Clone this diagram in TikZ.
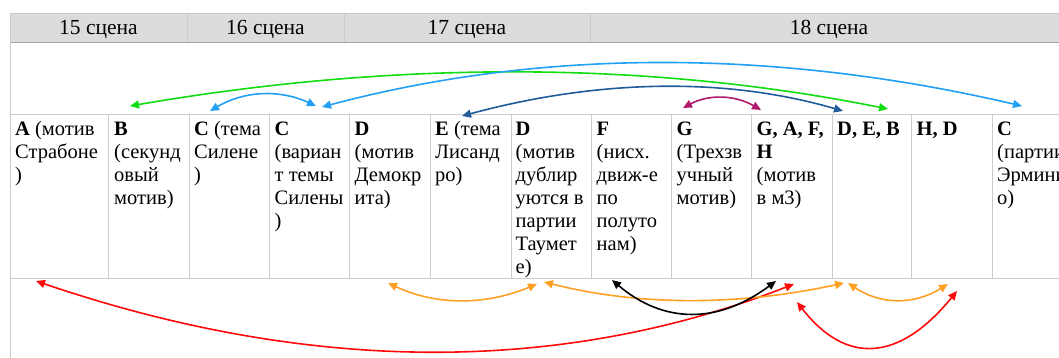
\documentclass[tikz,border=0pt]{standalone}
\usepackage{fontspec}
\setmainfont{Liberation Serif}
\usetikzlibrary{arrows.meta}
\definecolor{gridc}{HTML}{CCCCCC}
\definecolor{headfill}{HTML}{DCDCDC}
\definecolor{headline}{HTML}{A6A6A6}
\definecolor{cgreen}{HTML}{11DD11}
\definecolor{cblue}{HTML}{22A0F5}
\definecolor{cdblue}{HTML}{1F5C99}
\definecolor{cmag}{HTML}{B0186E}
\definecolor{cred}{HTML}{FF0A0A}
\definecolor{corange}{HTML}{FFA024}
\begin{document}
\begin{tikzpicture}[x=1pt,y=-1pt,
  grid/.style={draw=gridc,line width=0.9pt},
  headtext/.style={anchor=base,inner sep=0pt,font=\fontsize{21.5}{24}\selectfont},
  celltext/.style={anchor=north west,inner sep=0pt,align=left,font=\fontsize{20.5}{23}\selectfont},
  arr/.style={{Triangle[length=9pt,width=8pt]}-{Triangle[length=9pt,width=8pt]},line width=1.6pt}]
\useasboundingbox (0,0) rectangle (1059,358);
\clip (0,0) rectangle (1059,358);
% header
\fill[headfill] (10,13) rectangle (1072,42);
\draw[grid] (10,13) -- (1072,13);
\foreach \x in {187,344,590} \draw[grid] (\x,13) -- (\x,42);
\draw[draw=headline,line width=1.3pt] (10,42.5) -- (1072,42.5);
\draw[grid] (10,13) -- (10,358);
\draw[grid] (10,114) -- (1072,114);
\draw[draw=gridc,line width=1.5pt] (10,278.5) -- (1072,278.5);
\foreach \x in {108,189,269,349,430,511,591,671,751,832,911,992} \draw[grid] (\x,114) -- (\x,278);
\node[headtext] (h15) at (98.5,35) {15 сцена};
\node[headtext] (h16) at (265.5,35) {16 сцена};
\node[headtext] (h17) at (467,35) {17 сцена};
\node[headtext] (h18) at (829,35) {18 сцена};
% cells
\node[celltext] (c1) at (15,121.5) {\textbf{A} (мотив\\Страбоне\\)};
\node[celltext] (c2) at (114,121.5) {\textbf{B}\\(секунд\\овый\\мотив)};
\node[celltext] (c3) at (194,121.5) {\textbf{C} (тема\\Силене\\)};
\node[celltext] (c4) at (274.5,121.5) {\textbf{C}\\(вариан\\т темы\\Силены\\)};
\node[celltext] (c5) at (354.5,121.5) {\textbf{D}\\(мотив\\Демокр\\ита)};
\node[celltext] (c6) at (435,121.5) {\textbf{E} (тема\\Лисанд\\ро)};
\node[celltext] (c7) at (515.5,121.5) {\textbf{D}\\(мотив\\дублир\\уются в\\партии\\Таумет\\е)};
\node[celltext] (c8) at (596.5,121.5) {\textbf{F}\\(нисх.\\движ-е\\по\\полуто\\нам)};
\node[celltext] (c9) at (676.5,121.5) {\textbf{G}\\(Трехзв\\учный\\мотив)};
\node[celltext] (c10) at (756.5,121.5) {\textbf{G, A, F,}\\\textbf{H}\\(мотив\\в м3)};
\node[celltext] (c11) at (837,121.5) {\textbf{D, E, B}};
\node[celltext] (c12) at (916.5,121.5) {\textbf{H, D}};
\node[celltext] (c13) at (997,121.5) {\textbf{C}\\(партии\\Эрмини\\о)};
% arrow end points
\coordinate (g1) at (130,106);  \coordinate (g2) at (888,109);
\coordinate (b1) at (322,107);  \coordinate (b2) at (1022,106);
\coordinate (s1) at (210,111);  \coordinate (s2) at (316,106);
\coordinate (d1) at (462,116);  \coordinate (d2) at (843,111);
\coordinate (m1) at (683,108);  \coordinate (m2) at (761,110);
\coordinate (r1) at (36,281);   \coordinate (r2) at (794,284);
\coordinate (o1) at (388,283);  \coordinate (o2) at (537,284);
\coordinate (o3) at (544,282);  \coordinate (o4) at (844,283);
\coordinate (o5) at (848,283);  \coordinate (o6) at (948,284);
\coordinate (k1) at (612,280);  \coordinate (k2) at (776,281);
\coordinate (q1) at (797,302);  \coordinate (q2) at (957,291);
% top arrows
\draw[arr,cgreen] (g1) .. controls (397,60) and (650,61) .. (g2);
\draw[arr,cblue] (b1) .. controls (539,49) and (773,48) .. (b2);
\draw[arr,cblue] (s1) .. controls (244,91) and (279,89) .. (s2);
\draw[arr,cdblue] (d1) .. controls (599,79) and (726,77) .. (d2);
\draw[arr,cmag] (m1) .. controls (709,94) and (735,95) .. (m2);
% bottom arrows
\draw[arr,cred] (r1) .. controls (309,374) and (561,375) .. (r2);
\draw[arr,corange] (o1) .. controls (435,305) and (484,306) .. (o2);
\draw[arr,corange] (o3) .. controls (639,306) and (738,306) .. (o4);
\draw[arr,corange] (o5) .. controls (881,305) and (914,305) .. (o6);
\draw[arr,black] (k1) .. controls (664,324) and (718,324) .. (k2);
\draw[arr,cred] (q1) .. controls (846,365) and (899,362) .. (q2);
\end{tikzpicture}
\end{document}
